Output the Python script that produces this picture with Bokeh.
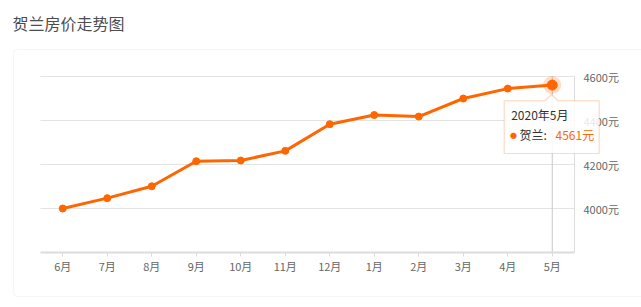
from bokeh.plotting import figure
from bokeh.models import (Range1d, FixedTicker, BoxAnnotation, PolyAnnotation,
                          Label, ColumnDataSource, LinearAxis)
from bokeh.embed import file_html
from bokeh.resources import INLINE

# ---- data ----
months = ["6月", "7月", "8月", "9月", "10月", "11月", "12月", "1月", "2月", "3月", "4月", "5月"]
prices = [4000, 4047, 4101, 4215, 4218, 4262, 4383, 4425, 4418, 4500, 4545, 4561]
y_ticks = [4000, 4200, 4400, 4600]
y_min, y_max = 3800, 4600
title_text = "贺兰房价走势图"
series_name = "贺兰"
hover_label = "2020年5月"

FONT = "Noto Sans CJK SC"
ORANGE = "#ff6600"

# ---- layout (pixels) ----
W, H = 641, 307
F_LEFT, F_RIGHT, F_TOP, F_BOTTOM = 40, 574, 76, 252

xs = list(range(len(months)))
x_lo, x_hi = -0.5, len(months) - 0.5
px_x = (F_RIGHT - F_LEFT) / (x_hi - x_lo)
px_y = (F_BOTTOM - F_TOP) / (y_max - y_min)
x_range = Range1d(x_lo - F_LEFT / px_x, x_hi + (W - F_RIGHT) / px_x)
y_range = Range1d(y_min - (H - F_BOTTOM) / px_y, y_max + F_TOP / px_y)

src = ColumnDataSource(dict(x=xs, y=prices))

p = figure(width=W, height=H, output_backend="svg", toolbar_location=None,
           x_range=x_range, y_range=y_range, x_axis_location=None, y_axis_location=None,
           min_border=0)
p.outline_line_color = None
p.background_fill_color = "white"
p.border_fill_color = "white"
p.xgrid.grid_line_color = None
p.ygrid.grid_line_color = None

# axes (real axes pinned at the data frame edges)
xaxis = LinearAxis(fixed_location=y_min, bounds=(x_lo, x_hi), ticker=FixedTicker(ticks=xs),
                   major_label_overrides={i: m for i, m in enumerate(months)})
xaxis.axis_line_color = "#dcdcdc"
xaxis.axis_line_width = 2
xaxis.major_tick_line_color = "#dcdcdc"
xaxis.major_tick_out = 4
xaxis.major_tick_in = 0
xaxis.minor_tick_line_color = None
xaxis.major_label_text_font = FONT
xaxis.major_label_text_font_size = "11px"
xaxis.major_label_text_color = "#666666"
xaxis.major_label_standoff = 1
p.add_layout(xaxis, "below")

yaxis = LinearAxis(fixed_location=x_hi, bounds=(y_min, y_max), ticker=FixedTicker(ticks=y_ticks),
                   major_label_overrides={t: f"{t}元" for t in y_ticks})
yaxis.axis_line_color = "#dcdcdc"
yaxis.major_tick_line_color = None
yaxis.minor_tick_line_color = None
yaxis.major_label_text_font = FONT
yaxis.major_label_text_font_size = "11px"
yaxis.major_label_text_color = "#666666"
yaxis.major_label_standoff = 3
p.add_layout(yaxis, "right")

# grid lines (across the data frame only)
p.segment(x0=[x_lo] * len(y_ticks), x1=[x_hi] * len(y_ticks), y0=y_ticks, y1=y_ticks,
          line_color="#e3e3e3", line_width=1)

# card + title (screen units: origin bottom-left of the canvas)
p.add_layout(BoxAnnotation(left=13, right=W + 60, top=H - 49, bottom=H - 296,
                           left_units="screen", right_units="screen",
                           top_units="screen", bottom_units="screen",
                           fill_color=None, line_color="#e2e2e2", line_width=1,
                           border_radius=4))
p.add_layout(Label(x=12, y=H - 22, x_units="screen", y_units="screen", text=title_text,
                   text_font=FONT, text_font_size="16px", text_color="#4d4d4d",
                   text_baseline="middle"))

# crosshair at hovered month
p.segment(x0=[xs[-1]], x1=[xs[-1]], y0=[y_min], y1=[y_max], line_color="#c8c8c8", line_width=1)

# series
p.line("x", "y", source=src, line_color=ORANGE, line_width=3)
p.scatter("x", "y", source=src, size=7, fill_color=ORANGE, line_color=ORANGE)

# hovered point
p.scatter([xs[-1]], [prices[-1]], size=18, fill_color=ORANGE, fill_alpha=0.22, line_color=None)
p.scatter([xs[-1]], [prices[-1]], size=10, fill_color=ORANGE, line_color=ORANGE)

# tooltip
tx = [503.7, 544.5, 551.0, 557.5, 598.7, 598.7, 503.7]
ty = [H - 100.3, H - 100.3, H - 94.0, H - 100.3, H - 100.3, H - 153.0, H - 153.0]
p.add_layout(PolyAnnotation(xs=tx, ys=ty, xs_units="screen", ys_units="screen",
                            fill_color="white", fill_alpha=0.85,
                            line_color="#f7853a", line_width=1.2))
p.add_layout(Label(x=510.7, y=H - 113.7, x_units="screen", y_units="screen", text=hover_label,
                   text_font=FONT, text_font_size="12px", text_color="#333333",
                   text_baseline="middle"))
p.add_layout(Label(x=509.5, y=H - 134.5, x_units="screen", y_units="screen", text="●",
                   text_font=FONT, text_font_size="7px", text_color=ORANGE,
                   text_baseline="middle"))
p.add_layout(Label(x=519, y=H - 134.3, x_units="screen", y_units="screen", text=f"{series_name}:",
                   text_font=FONT, text_font_size="12px", text_color="#333333",
                   text_baseline="middle"))
p.add_layout(Label(x=555, y=H - 134.3, x_units="screen", y_units="screen", text=f"{prices[-1]}元",
                   text_font=FONT, text_font_size="12px", text_color=ORANGE,
                   text_baseline="middle"))

open("out.html", "w").write(file_html(p, INLINE))
